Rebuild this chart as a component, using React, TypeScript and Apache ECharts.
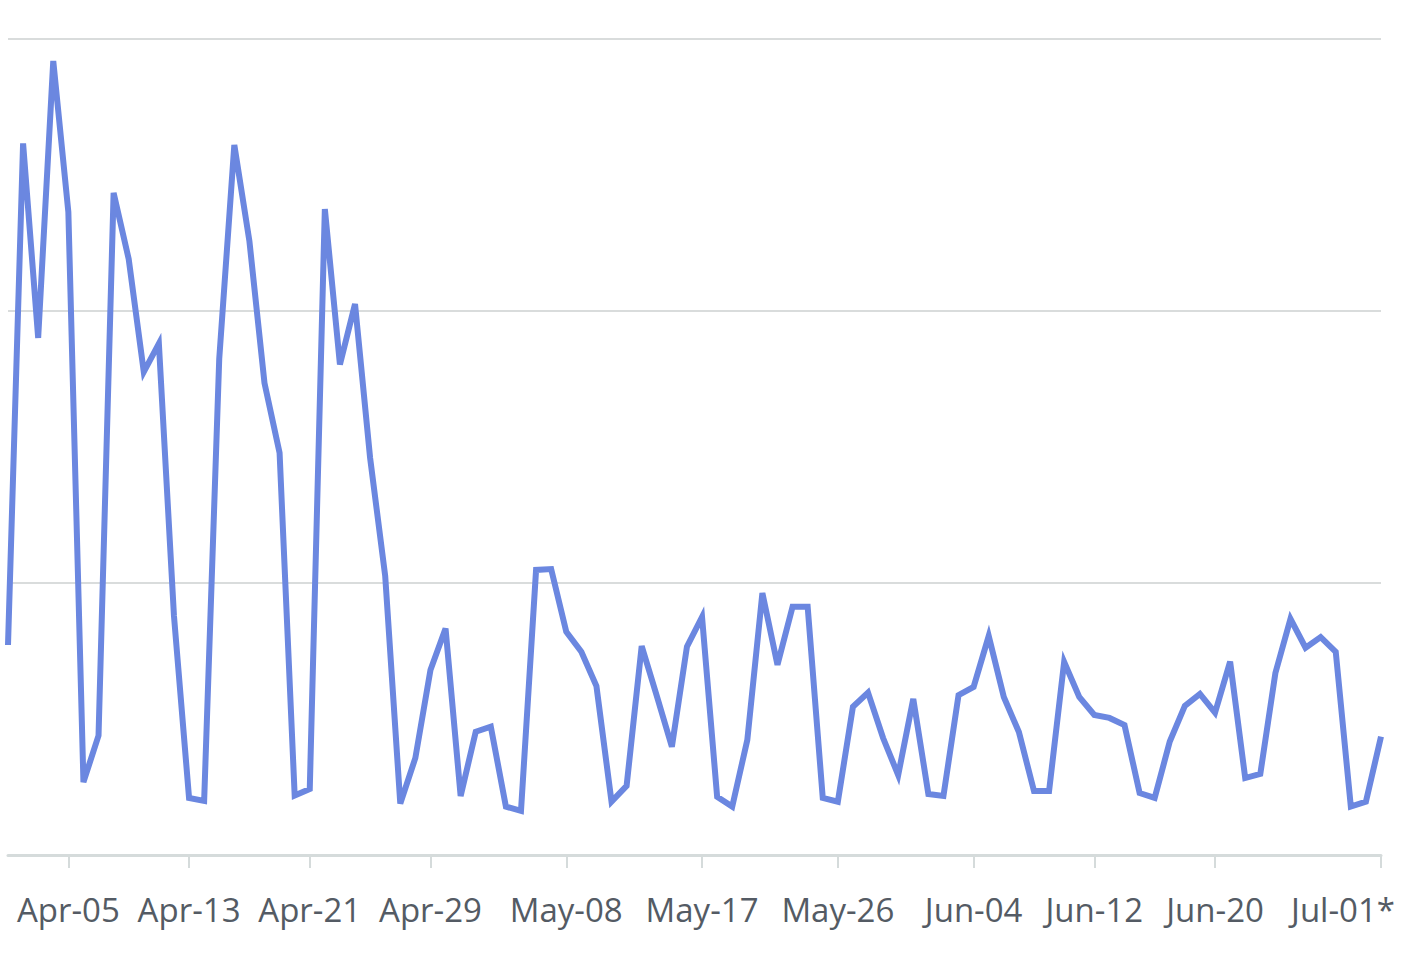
import React, { useEffect, useRef } from "react";
import * as echarts from "echarts";

const months = ["Apr", "May", "Jun", "Jul"];
const monthDays = [30, 31, 30, 1];

const categories: string[] = [];
months.forEach((m, mi) => {
  for (let d = 1; d <= monthDays[mi]; d++) {
    const label = `${m}-${String(d).padStart(2, "0")}`;
    categories.push(m === "Jul" ? label + "*" : label);
  }
});

const tickLabels = [
  "Apr-05", "Apr-13", "Apr-21", "Apr-29", "May-08", "May-17",
  "May-26", "Jun-04", "Jun-12", "Jun-20", "Jul-01*",
];

const values = [
  77.2, 261.6, 190.1, 291.9, 236.4, 26.8, 43.9, 243.4, 219.1, 177.6,
  188.0, 87.9, 21.0, 19.9, 182.4, 261.0, 225.7, 173.5, 147.8, 21.9,
  24.3, 237.5, 180.3, 202.6, 146.0, 102.6, 18.9, 35.7, 68.0, 83.3,
  21.7, 45.3, 47.2, 17.8, 16.2, 104.8, 105.1, 82.1, 74.7, 62.1,
  19.6, 25.4, 76.8, 58.5, 39.8, 76.6, 87.5, 21.4, 17.8, 42.3,
  96.3, 69.9, 91.3, 91.3, 21.0, 19.6, 54.5, 59.7, 43.0, 29.4,
  57.4, 22.4, 21.7, 58.8, 61.8, 80.5, 58.1, 45.2, 23.5, 23.5,
  71.0, 58.1, 51.5, 50.4, 47.8, 22.8, 21.0, 41.7, 54.8, 59.2,
  52.3, 71.1, 28.3, 29.8, 66.9, 86.8, 76.2, 80.1, 74.7, 17.8,
  19.6, 43.5,
];

export default function App() {
  const ref = useRef<HTMLDivElement>(null);
  useEffect(() => {
    if (!ref.current) return;
    const chart = echarts.init(ref.current, null, { renderer: "svg" });
    const isTick = (_i: number, v: string) => tickLabels.includes(v);
    chart.setOption({
      animation: false,
      grid: { left: 8, right: 37, top: 39, bottom: 107, containLabel: false },
      xAxis: {
        type: "category",
        data: categories,
        boundaryGap: false,
        axisLine: { show: true, lineStyle: { color: "#d5dbdb", width: 3 } },
        axisTick: {
          show: true,
          interval: isTick,
          length: 13,
          lineStyle: { color: "#d5dbdb", width: 2 },
        },
        axisLabel: {
          interval: isTick,
          margin: 38,
          color: "#545b64",
          fontSize: 33,
          fontFamily: "Open Sans",
          formatter: (v: string) => (v.endsWith("*") ? `{last|${v}}` : v),
          rich: {
            last: {
              color: "#545b64",
              fontSize: 33,
              fontFamily: "Open Sans",
              padding: [0, 76, 0, 0],
            },
          },
        },
        splitLine: { show: false },
      },
      yAxis: {
        type: "value",
        min: 0,
        max: 300,
        interval: 100,
        axisLabel: { show: false },
        axisLine: { show: false },
        axisTick: { show: false },
        splitLine: { show: true, lineStyle: { color: "#d9dcdc", width: 2 } },
      },
      series: [
        {
          type: "line",
          data: values,
          showSymbol: false,
          symbol: "none",
          lineStyle: { color: "#6b87e0", width: 6, join: "miter" },
        },
      ],
    });
    return () => chart.dispose();
  }, []);
  return (
    <div
      ref={ref}
      style={{ position: "fixed", left: 0, top: 0, width: 1418, height: 962, background: "#fff" }}
    />
  );
}
